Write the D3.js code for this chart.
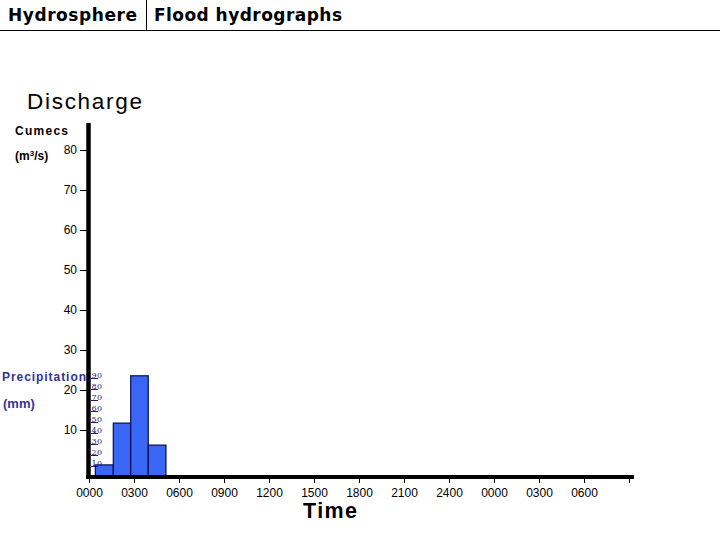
<!DOCTYPE html>
<html>
<head>
<meta charset="utf-8">
<script src="https://cdn.jsdelivr.net/npm/d3@7"></script>
<style>
  html, body { margin: 0; padding: 0; background: #fff; }
  svg { display: block; }
</style>
</head>
<body>
<script>
// ---- data ----
const timeTickHours = [0, 3, 6, 9, 12, 15, 18, 21, 24, 27, 30, 33, 36];
const timeTickLabels = ["0000", "0300", "0600", "0900", "1200", "1500", "1800", "2100", "2400", "0000", "0300", "0600", ""];
const dischargeTicks = [10, 20, 30, 40, 50, 60, 70, 80];
const precipTicks = [10, 20, 30, 40, 50, 60, 70, 80, 90];
const precipStart = [0.42, 1.62, 2.78, 3.95];   // hours
const precipEnd   = [1.62, 2.78, 3.95, 5.13];   // hours
const precipMM    = [11, 49, 92, 29];           // mm

// ---- layout ----
const W = 720, H = 540;
const axisY = 477, axisX = 88.5;

const svg = d3.select("body").append("svg").attr("width", W).attr("height", H);

// header
svg.append("line").attr("x1", 0).attr("x2", W).attr("y1", 30.5).attr("y2", 30.5)
  .attr("stroke", "#000").attr("stroke-width", 1);
svg.append("line").attr("x1", 146.5).attr("x2", 146.5).attr("y1", 0).attr("y2", 30)
  .attr("stroke", "#000").attr("stroke-width", 1);
svg.append("text").attr("x", 8).attr("y", 21).text("Hydrosphere")
  .attr("font-family", "DejaVu Sans").attr("font-weight", "bold").attr("font-size", 17)
  .attr("textLength", 129).attr("lengthAdjust", "spacing");
svg.append("text").attr("x", 154).attr("y", 21).text("Flood hydrographs")
  .attr("font-family", "DejaVu Sans").attr("font-weight", "bold").attr("font-size", 17)
  .attr("textLength", 188).attr("lengthAdjust", "spacing");

// scales
const x = d3.scaleLinear().domain([0, 36]).range([89, 629]);
const yQ = d3.scaleLinear().domain([0, 80]).range([470, 150]);
const yP = d3.scaleLinear().domain([0, 90]).range([axisY, 378]);

// precipitation bars
svg.append("g").selectAll("rect").data(precipMM).join("rect")
  .attr("x", (d, i) => x(precipStart[i]))
  .attr("width", (d, i) => x(precipEnd[i]) - x(precipStart[i]))
  .attr("y", d => yP(d))
  .attr("height", d => yP(0) - yP(d))
  .attr("fill", "#3a66f6")
  .attr("stroke", "#0a0a50")
  .attr("stroke-width", 1.2);

// precipitation axis (small labels with underline ticks)
const gp = svg.append("g");
gp.selectAll("line").data(precipTicks).join("line")
  .attr("x1", 91).attr("x2", 98)
  .attr("y1", d => yP(d) + 0.5).attr("y2", d => yP(d) + 0.5)
  .attr("stroke", "#1c1c80").attr("stroke-width", 1);
gp.selectAll("text").data(precipTicks).join("text")
  .attr("x", 91.5).attr("y", d => yP(d) - 0.5)
  .text(d => d)
  .attr("font-family", "DejaVu Serif").attr("font-size", 8)
  .attr("letter-spacing", 0.4)
  .attr("fill", "#1c1c80");

// discharge axis
const gy = svg.append("g").attr("transform", `translate(${axisX - 1.5},0)`)
  .call(d3.axisLeft(yQ).tickValues(dischargeTicks).tickSize(7).tickPadding(3));
gy.select(".domain").remove();
gy.selectAll("text").attr("font-family", "Liberation Sans").attr("font-size", 12).attr("fill", "#000");
gy.selectAll("line").attr("stroke", "#000");

// x axis
const gx = svg.append("g").attr("transform", `translate(0,${axisY + 2})`)
  .call(d3.axisBottom(x).tickValues(timeTickHours).tickFormat((d, i) => timeTickLabels[i]).tickSize(4).tickPadding(5));
gx.select(".domain").remove();
gx.selectAll("text").attr("font-family", "Liberation Sans").attr("font-size", 12).attr("fill", "#000");
gx.selectAll("line").attr("stroke", "#000");

// thick axis lines
svg.append("line").attr("x1", axisX).attr("x2", axisX).attr("y1", 123).attr("y2", axisY + 2)
  .attr("stroke", "#000").attr("stroke-width", 4.5);
svg.append("line").attr("x1", 86).attr("x2", 634).attr("y1", axisY).attr("y2", axisY)
  .attr("stroke", "#000").attr("stroke-width", 4);

// axis titles
svg.append("text").attr("x", 27).attr("y", 109).text("Discharge")
  .attr("font-family", "Liberation Sans").attr("font-size", 22.5)
  .attr("textLength", 115).attr("lengthAdjust", "spacing");
svg.append("text").attr("x", 15).attr("y", 135).text("Cumecs")
  .attr("font-family", "Liberation Sans").attr("font-weight", "bold").attr("font-size", 12)
  .attr("textLength", 53).attr("lengthAdjust", "spacing");
const ms = svg.append("text").attr("x", 15).attr("y", 160)
  .attr("font-family", "Liberation Sans").attr("font-weight", "bold").attr("font-size", 12);
ms.append("tspan").text("(m");
ms.append("tspan").text("3").attr("font-size", 8).attr("dy", -4);
ms.append("tspan").text("/s)").attr("dy", 4);

svg.append("text").attr("x", 2).attr("y", 380.5).text("Precipitation")
  .attr("font-family", "Liberation Sans").attr("font-weight", "bold").attr("font-size", 12)
  .attr("fill", "#333399")
  .attr("textLength", 84).attr("lengthAdjust", "spacing");
svg.append("text").attr("x", 3).attr("y", 408).text("(mm)")
  .attr("font-family", "Liberation Sans").attr("font-weight", "bold").attr("font-size", 13)
  .attr("fill", "#333399");

svg.append("text").attr("x", 303).attr("y", 518).text("Time")
  .attr("font-family", "Liberation Sans").attr("font-weight", "bold").attr("font-size", 21.5)
  .attr("textLength", 54).attr("lengthAdjust", "spacing");
</script>
</body>
</html>
